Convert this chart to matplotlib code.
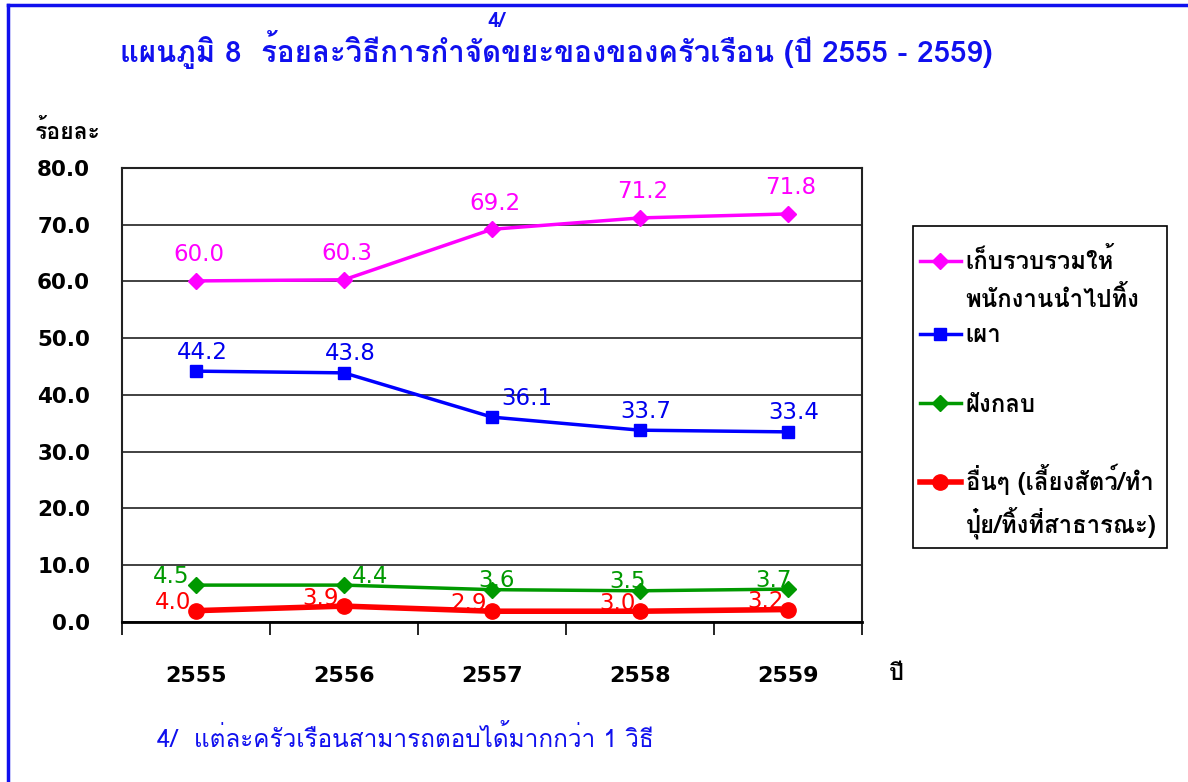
import matplotlib
matplotlib.use('Agg')
import matplotlib.pyplot as plt
from matplotlib import font_manager
from matplotlib.lines import Line2D
from matplotlib.patches import Rectangle
from fontTools.ttLib import TTFont


def find_thai_families():
    """Return installed family names that carry Thai glyphs."""
    found = []
    for fe in font_manager.fontManager.ttflist:
        if fe.name in found:
            continue
        try:
            tt = TTFont(fe.fname, fontNumber=0, lazy=True)
            cmap = tt.getBestCmap() or {}
            if 0x0E01 in cmap and 0x0E49 in cmap:
                found.append(fe.name)
        except Exception:
            pass
    return found


thai_fams = find_thai_families()
prefer = ['Tahoma', 'Loma', 'Noto Sans Thai Looped', 'Noto Sans Thai']
thai_fams = [f for f in prefer if f in thai_fams] + [f for f in thai_fams if f not in prefer]
plt.rcParams['font.family'] = thai_fams[:1] + ['DejaVu Sans']

years = ['2555', '2556', '2557', '2558', '2559']
collect = [60.1, 60.3, 69.2, 71.2, 71.9]
burn = [44.2, 43.9, 36.1, 33.8, 33.5]
landfill = [6.5, 6.5, 5.7, 5.5, 5.8]
other = [2.0, 2.8, 1.9, 1.9, 2.2]
collect_lbl = ['60.0', '60.3', '69.2', '71.2', '71.8']
burn_lbl = ['44.2', '43.8', '36.1', '33.7', '33.4']
landfill_lbl = ['4.5', '4.4', '3.6', '3.5', '3.7']
other_lbl = ['4.0', '3.9', '2.9', '3.0', '3.2']

BLUE = '#1010ee'
fig = plt.figure(figsize=(11.88, 7.82), dpi=100)
ax = fig.add_axes([0.1027, 0.2046, 0.6229, 0.5806])
x = list(range(len(years)))

ax.plot(x, collect, color='#ff00ff', lw=2.5, marker='D', ms=8, zorder=4)
ax.plot(x, burn, color='#0000ff', lw=2.5, marker='s', ms=9, zorder=4)
ax.plot(x, landfill, color='#009900', lw=2.5, marker='D', ms=8, zorder=4)
ax.plot(x, other, color='#ff0000', lw=4, marker='o', ms=11, zorder=4)

lbl_kw = dict(textcoords='offset pixels', ha='center', va='center',
              fontsize=16.5, family=['DejaVu Sans'], zorder=5)
for i in x:
    ax.annotate(collect_lbl[i], (i, collect[i]), xytext=(3, 26), color='#ff00ff', **lbl_kw)
    ax.annotate(burn_lbl[i], (i, burn[i]), xytext=(6 if i != 2 else 35, 19), color='#0000ee', **lbl_kw)
    ax.annotate(landfill_lbl[i], (i, landfill[i]), xytext=([-25, 26, 5, -12, -14][i], 9),
                color='#009900', **lbl_kw)
    ax.annotate(other_lbl[i], (i, other[i]), xytext=(-23, 8), color='#ff0000', **lbl_kw)

ax.set_xlim(-0.5, len(years) - 0.5)
ax.set_ylim(0, 80)
ax.set_yticks(range(0, 81, 10))
ax.set_yticklabels(['%.1f' % v for v in range(0, 81, 10)], fontsize=15.5,
                   fontweight='bold', family=['DejaVu Sans'])
# category borders carry the tick marks, the year labels sit between them
ax.set_xticks([i - 0.5 for i in range(len(years) + 1)])
ax.set_xticklabels([])
ax.set_xticks(x, minor=True)
ax.set_xticklabels(years, minor=True, fontsize=16, fontweight='bold', family=['DejaVu Sans'])
ax.tick_params(axis='x', which='major', direction='out', length=9, width=1.2)
ax.tick_params(axis='x', which='minor', length=0, pad=32)
ax.tick_params(axis='y', length=0, pad=23)
ax.grid(axis='y', color='#333333', lw=1.3)
for s in ax.spines.values():
    s.set_color('#222222')
    s.set_linewidth(1.5)
ax.spines['bottom'].set_linewidth(2)
ax.spines['bottom'].set_color('black')

fig.text(0.029, 0.833, 'ร้อยละ', fontsize=16.5, fontweight='bold', va='center')
fig.text(0.748, 0.139, 'ปี', fontsize=17, fontweight='bold', va='center')
fig.text(0.468, 0.937, 'แผนภูมิ 8  ร้อยละวิธีการกำจัดขยะของของครัวเรือน (ปี 2555 - 2559)',
         fontsize=21.2, fontweight='bold', color=BLUE, ha='center', va='center')
fig.text(0.418, 0.973, '4/', fontsize=15, fontweight='bold', color=BLUE, ha='center', va='center')
fig.text(0.132, 0.056, '4/  แต่ละครัวเรือนสามารถตอบได้มากกว่า 1 วิธี', fontsize=17.5,
         color=BLUE, va='center')

# empty rows keep the wide gaps of the original legend
blank = Line2D([], [], color='none')
handles = [Line2D([], [], color='#ff00ff', lw=2.5, marker='D', ms=8), blank,
           Line2D([], [], color='#0000ff', lw=2.5, marker='s', ms=9), blank,
           Line2D([], [], color='#009900', lw=2.5, marker='D', ms=8), blank,
           Line2D([], [], color='#ff0000', lw=4, marker='o', ms=11), blank]
labels = ['เก็บรวบรวมให้', 'พนักงานนำไปทิ้ง', 'เผา', ' ', 'ฝังกลบ', ' ',
          'อื่นๆ (เลี้ยงสัตว์/ทำ', 'ปุ๋ย/ทิ้งที่สาธารณะ)']
leg = fig.legend(handles, labels, loc='upper left', bbox_to_anchor=(0.7685, 0.692),
                 borderaxespad=0, frameon=False, handlelength=1.7, handletextpad=0.2,
                 labelspacing=0.5, prop=dict(size=17.2, weight='bold'), borderpad=0.3)
# legend box drawn a bit taller than its content, as in the original
fig.add_artist(Rectangle((0.7685, 0.2992), 0.2138, 0.4118, transform=fig.transFigure,
                         fill=False, edgecolor='black', lw=1.2))

# blue frame lines at the top and left edge
fig.add_artist(Line2D([0.007, 1], [0.994, 0.994], color=BLUE, lw=2.5, transform=fig.transFigure))
fig.add_artist(Line2D([0.007, 0.007], [0, 0.994], color=BLUE, lw=2.5, transform=fig.transFigure))

fig.savefig('out.png', dpi=100)
